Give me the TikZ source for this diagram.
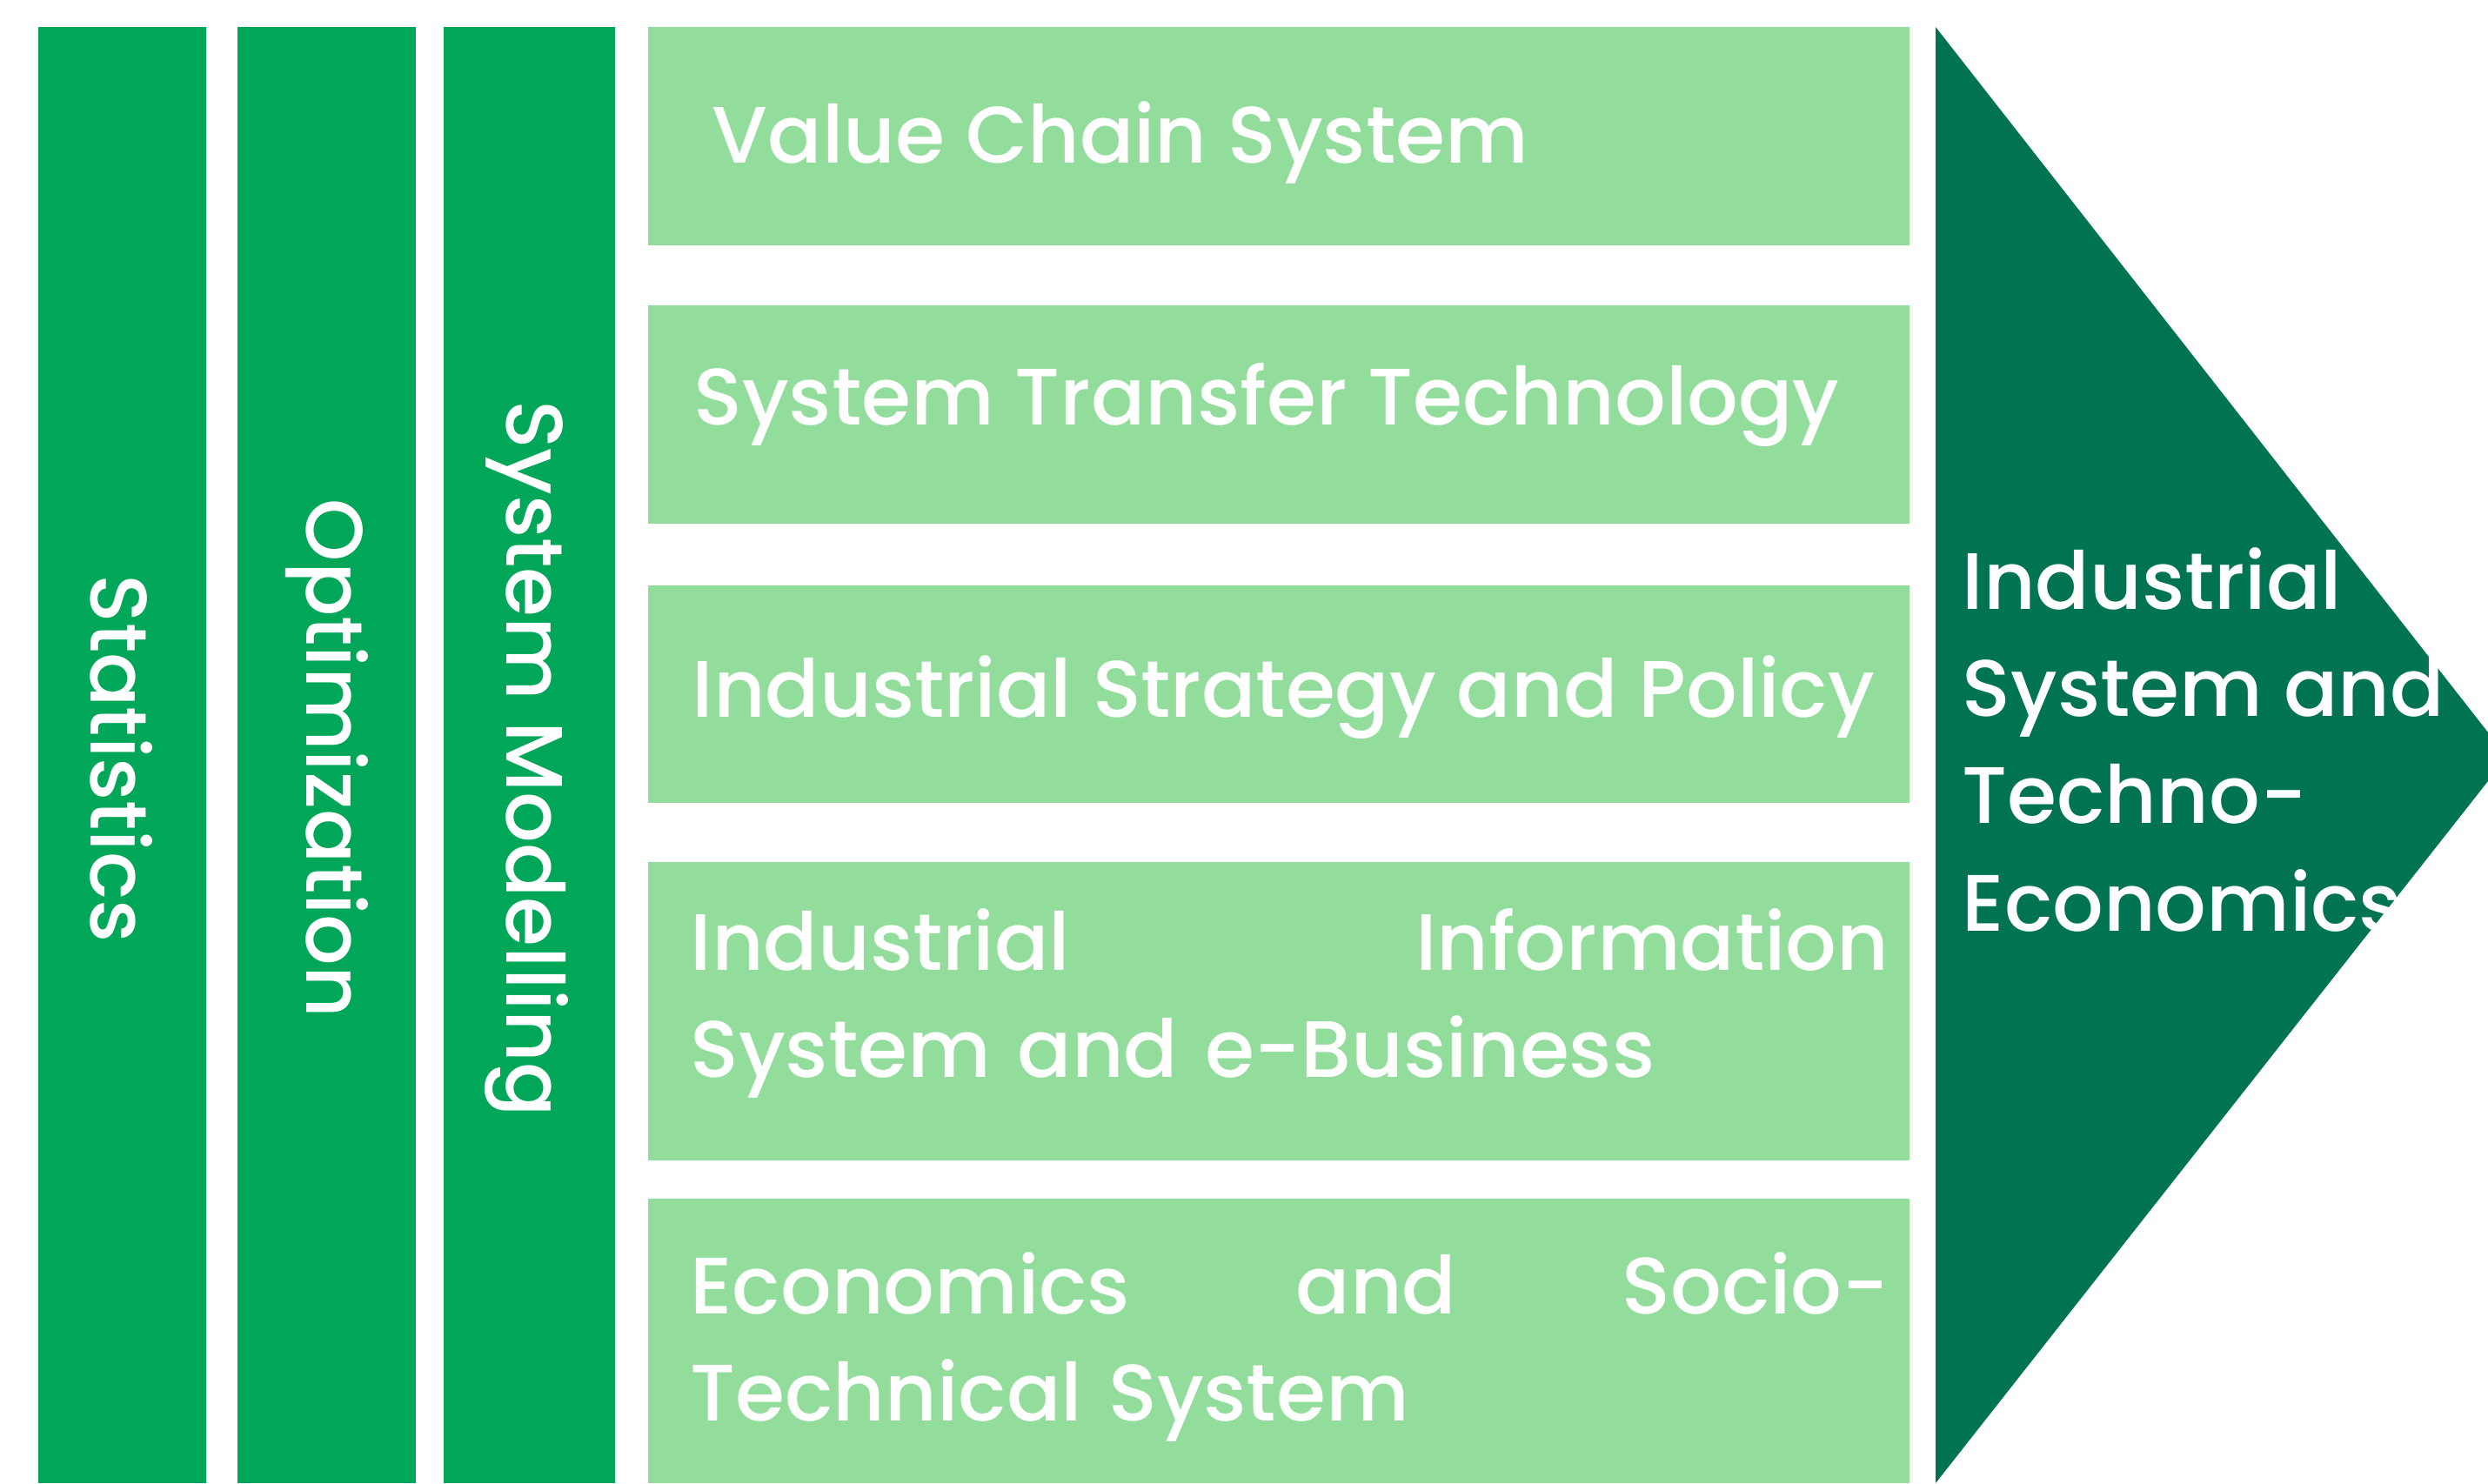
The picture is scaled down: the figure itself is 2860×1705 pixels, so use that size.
\documentclass[tikz,border=0pt]{standalone}
\usepackage{fontspec}
\setmainfont{Poppins}[UprightFont=* Medium]

\definecolor{colgreen}{RGB}{0,167,89}
\definecolor{boxgreen}{RGB}{146,221,155}
\definecolor{arrowgreen}{RGB}{0,116,82}

\begin{document}
\begin{tikzpicture}[x=0.01cm, y=-0.01cm,
    label/.style={text=white, inner sep=0pt, font=\fontsize{26.2}{35}\selectfont}]
    % Page frame
    \useasboundingbox (0,0) rectangle (2860,1705);

    % Method columns
    \fill[colgreen] (44,31) rectangle (237,1705);
    \fill[colgreen] (273,31) rectangle (478,1705);
    \fill[colgreen] (510,31) rectangle (707,1705);
    \node[label, rotate=-90] (stat) at (140,872) {Statistics};
    \node[label, rotate=-90] (optim) at (376,872) {Optimization};
    \node[label, rotate=-90] (sysmod) at (605,872) {System Modelling};

    % Topic boxes
    \fill[boxgreen] (745,31) rectangle (2195,282);
    \fill[boxgreen] (745,351) rectangle (2195,602);
    \fill[boxgreen] (745,673) rectangle (2195,923);
    \fill[boxgreen] (745,991) rectangle (2195,1334);
    \fill[boxgreen] (745,1378) rectangle (2195,1705);
    \node[label, anchor=base west] (valchain) at (818,187) {Value Chain System};
    \node[label, anchor=base west] (transfer) at (797,488) {System Transfer Technology};
    \node[label, anchor=base west] (strategy) at (795,824) {Industrial Strategy and Policy};
    \node[label, anchor=base west, text width=13.77cm, align=left] (infosys) at (793,1115)
        {Industrial\hfill Information\\System and e-Business};
    \node[label, anchor=base west, text width=13.77cm, align=left] (socio) at (793,1510)
        {Economics\hfill and\hfill Socio-\\Technical System};

    % Result arrow (tip runs past the page edge)
    \fill[arrowgreen] (2225,31) -- (2882,870) -- (2225,1705) -- cycle;
    \node[label, anchor=base west, align=left] (result) at (2255,1070)
        {Industrial\\System and\\Techno-\\Economics};
\end{tikzpicture}
\end{document}
